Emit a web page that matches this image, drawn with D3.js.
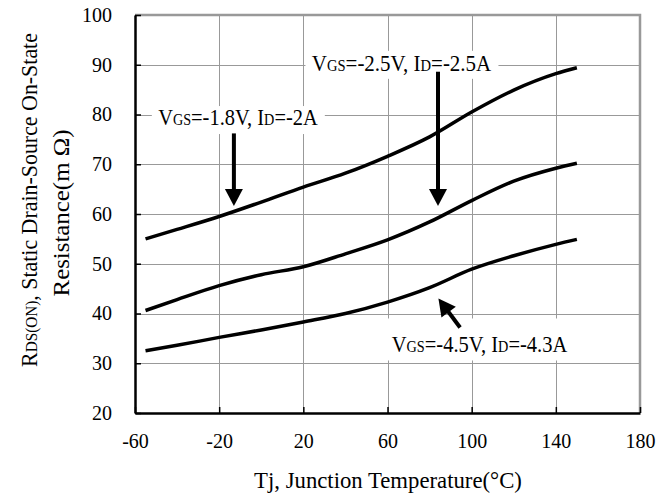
<!DOCTYPE html>
<html>
<head>
<meta charset="utf-8">
<script src="https://cdn.jsdelivr.net/npm/d3@7"></script>
<style>
  body { margin: 0; background: #fff; }
  text { font-family: "Liberation Serif", "Times New Roman", serif; fill: #000; }
</style>
</head>
<body>
<svg id="chart"></svg>
<script>
// data
let temps = [-55, -40, -20, 0, 20, 40, 60, 80, 100, 120, 140, 150]
let rds18 = [55, 56.9, 59.5, 62.4, 65.4, 68.2, 71.6, 75.5, 80.5, 84.9, 88.2, 89.4]
let rds25 = [40.6, 42.8, 45.6, 47.8, 49.4, 52, 54.8, 58.4, 62.7, 66.6, 69.2, 70.2]
let rds45 = [32.5, 33.6, 35.2, 36.7, 38.3, 40.0, 42.3, 45.2, 48.9, 51.6, 53.9, 54.9]
let xTicks = [-60, -20, 20, 60, 100, 140, 180]
let yTicks = [20, 30, 40, 50, 60, 70, 80, 90, 100]

function getConfig() {
  let width = 671
  let height = 497
  let margin = { top: 15, bottom: 84, left: 135, right: 31 }
  let bodyWidth = width - margin.left - margin.right
  let bodyHeight = height - margin.top - margin.bottom
  let container = d3.select("#chart").attr("width", width).attr("height", height)
  return { width, height, margin, bodyWidth, bodyHeight, container }
}

function getScales(config) {
  let xScale = d3.scaleLinear().domain([-60, 180]).range([0, config.bodyWidth])
  let yScale = d3.scaleLinear().domain([20, 100]).range([config.bodyHeight, 0])
  return { xScale, yScale }
}

function drawGrid(body, scales, config) {
  let { xScale, yScale } = scales
  let { bodyWidth, bodyHeight } = config

  // horizontal grid
  body.selectAll(".hgrid")
    .data(yTicks.slice(1, -1))
    .enter()
    .append("line")
      .attr("class", "hgrid")
      .attr("x1", 0).attr("x2", bodyWidth)
      .attr("y1", d => Math.round(yScale(d)) + 0.5).attr("y2", d => Math.round(yScale(d)) + 0.5)
      .attr("stroke", "#999").attr("stroke-width", 1)

  // vertical grid
  body.selectAll(".vgrid")
    .data(xTicks.slice(1, -1))
    .enter()
    .append("line")
      .attr("class", "vgrid")
      .attr("y1", 0).attr("y2", bodyHeight)
      .attr("x1", d => Math.round(xScale(d)) + 0.5).attr("x2", d => Math.round(xScale(d)) + 0.5)
      .attr("stroke", "#999").attr("stroke-width", 1)

  // grey frame on top and right
  body.append("path")
    .attr("d", `M0,${yScale(100)}H${xScale(180)}V${bodyHeight}`)
    .attr("fill", "none").attr("stroke", "#999").attr("stroke-width", 2.5)
}

function drawAxes(body, scales, config) {
  let { xScale, yScale } = scales
  let { bodyHeight } = config

  let left = body.append("g")
    .call(d3.axisLeft(yScale).tickValues(yTicks).tickFormat(d => String(d))
      .tickSizeInner(-6).tickSizeOuter(0).tickPadding(23))
  left.select(".domain").attr("stroke-width", 2.5)
  left.selectAll("line").attr("stroke-width", 1.5)
  left.selectAll("text").attr("font-size", 20).attr("font-family", "Liberation Serif")

  let bottom = body.append("g")
    .attr("transform", `translate(0,${bodyHeight})`)
    .call(d3.axisBottom(xScale).tickValues(xTicks).tickFormat(d => String(d))
      .tickSizeInner(-6).tickSizeOuter(0).tickPadding(21))
  bottom.select(".domain").attr("stroke-width", 2.5)
  bottom.selectAll("line").attr("stroke-width", 1.5)
  bottom.selectAll("text").attr("font-size", 20).attr("font-family", "Liberation Serif")
}

// text with small subscript-like parts, e.g. V GS
function richText(sel, parts, big, small) {
  parts.forEach(p => {
    sel.append("tspan").attr("font-size", p[1] ? small : big).text(p[0])
  })
}

// squeeze a text horizontally so it spans the given width
function fitText(t, pos, width, extra) {
  let w = t.node().getBBox().width
  t.attr("transform", `translate(${pos[0]},${pos[1]}) ${extra || ""} scale(${width / w},1)`)
}

function drawLabel(body, parts, x, y, width, box) {
  body.append("rect")
    .attr("x", box[0]).attr("y", box[1]).attr("width", box[2]).attr("height", box[3])
    .attr("fill", "#fff")
  let t = body.append("text")
  richText(t, parts, 23, 16)
  fitText(t, [x, y], width)
}

function drawArrow(body, x1, y1, x2, y2) {
  let dx = x2 - x1, dy = y2 - y1
  let L = Math.sqrt(dx * dx + dy * dy)
  let ux = dx / L, uy = dy / L
  let head = 17, half = 9
  let bx = x2 - ux * head, by = y2 - uy * head
  body.append("line")
    .attr("x1", x1).attr("y1", y1).attr("x2", bx + ux * 2).attr("y2", by + uy * 2)
    .attr("stroke", "#000").attr("stroke-width", 4)
  body.append("path")
    .attr("d", `M${x2},${y2}L${bx - uy * half},${by + ux * half}L${bx + uy * half},${by - ux * half}Z`)
    .attr("fill", "#000")
}

function drawChart() {
  let config = getConfig()
  let scales = getScales(config)
  let { xScale, yScale } = scales
  let { container, margin, bodyWidth, bodyHeight } = config

  let body = container.append("g").attr("transform", `translate(${margin.left},${margin.top})`)

  drawGrid(body, scales, config)

  // annotation boxes + text
  drawLabel(body, [["V"], ["GS", 1], ["=-1.8V, I"], ["D", 1], ["=-2A"]],
    xScale(-49), yScale(77.8), 160, [xScale(-52), yScale(81.7), 173, 28])
  drawLabel(body, [["V"], ["GS", 1], ["=-2.5V, I"], ["D", 1], ["=-2.5A"]],
    xScale(24), yScale(88.8), 180, [xScale(21), yScale(92.8), 193, 28])
  drawLabel(body, [["V"], ["GS", 1], ["=-4.5V, I"], ["D", 1], ["=-4.3A"]],
    xScale(62), yScale(32.3), 176, [xScale(59.5), yScale(39), 194, 42])

  let line = d3.line()
    .x((d, i) => xScale(temps[i]))
    .y(d => yScale(d))
    .curve(d3.curveMonotoneX)

  body.selectAll(".curve")
    .data([rds18, rds25, rds45])
    .enter()
    .append("path")
      .attr("class", "curve")
      .attr("d", line)
      .attr("fill", "none")
      .attr("stroke", "#000")
      .attr("stroke-width", 3.5)
      .attr("stroke-linejoin", "round")

  drawArrow(body, xScale(-13), yScale(76.2), xScale(-13), yScale(61.6))
  drawArrow(body, xScale(84), yScale(88.6), xScale(84), yScale(61.6))
  drawArrow(body, xScale(94.5), yScale(37.2), xScale(84.2), yScale(43))

  drawAxes(body, scales, config)

  // axis titles
  let xt = container.append("text")
    .attr("text-anchor", "middle").attr("font-size", 23)
    .text("Tj, Junction Temperature(°C)")
  fitText(xt, [margin.left + bodyWidth / 2 + 0.5, 488], 268)

  let t1 = container.append("text").attr("text-anchor", "middle")
  richText(t1, [["R"], ["DS(ON)", 1], [", Static Drain-Source On-State"]], 23, 16)
  fitText(t1, [37, 200], 334, "rotate(-90)")

  let t2 = container.append("text").attr("text-anchor", "middle")
  richText(t2, [["Resistance(m Ω)"]], 23, 16)
  fitText(t2, [69, 213], 167, "rotate(-90)")
}

drawChart()
</script>
</body>
</html>
